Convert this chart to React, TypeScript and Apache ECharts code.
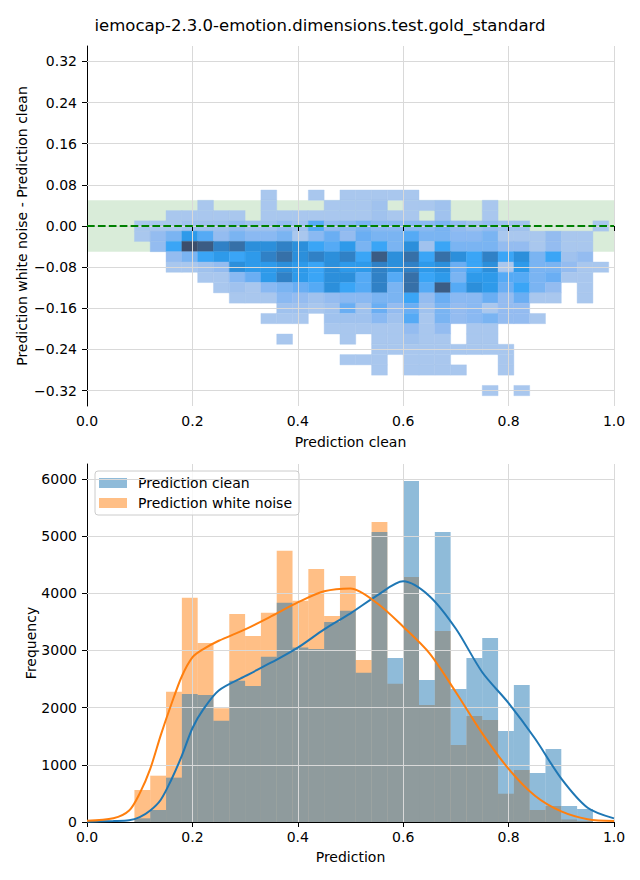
import React, { useEffect, useRef } from 'react';
import * as echarts from 'echarts';

const TITLE = 'iemocap-2.3.0-emotion.dimensions.test.gold_standard';
const FONT = 'DejaVu Sans';

// ---------- top: 2D histogram (difference vs clean prediction) ----------
const heatXStarts = [0.09, 0.12, 0.15, 0.18, 0.21, 0.24, 0.27, 0.30, 0.33, 0.36, 0.39, 0.42, 0.45, 0.48, 0.51,
  0.54, 0.57, 0.60, 0.63, 0.66, 0.69, 0.72, 0.75, 0.78, 0.81, 0.84, 0.87, 0.90, 0.93, 0.96];
const heatYCenters = [0.06, 0.04, 0.02, 0, -0.02, -0.04, -0.06, -0.08, -0.10, -0.12, -0.14, -0.16, -0.18, -0.20,
  -0.22, -0.24, -0.26, -0.28, -0.30, -0.32];
const HEAT_DX = 0.03;
const HEAT_DY = 0.02;
// intensity level per cell (rows follow heatYCenters, columns follow heatXStarts)
const heatRows = [
  [0, 0, 0, 0, 0, 0, 0, 0, 1, 0, 0, 1, 0, 1, 1, 1, 1, 1, 0, 0, 0, 0, 0, 0, 0, 0, 0, 0, 0, 0],
  [0, 0, 0, 0, 1, 0, 0, 0, 1, 0, 0, 0, 1, 1, 1, 2, 0, 1, 1, 2, 0, 0, 1, 0, 0, 0, 0, 0, 0, 0],
  [0, 0, 1, 1, 1, 1, 1, 0, 1, 1, 1, 1, 1, 1, 1, 2, 1, 1, 0, 2, 0, 0, 1, 0, 0, 0, 0, 0, 0, 0],
  [1, 1, 1, 2, 2, 2, 3, 2, 2, 3, 2, 7, 3, 4, 5, 4, 4, 4, 4, 5, 3, 2, 3, 2, 2, 0, 0, 0, 0, 1],
  [1, 3, 5, 9, 7, 3, 5, 4, 4, 5, 1, 4, 6, 3, 6, 5, 5, 7, 5, 5, 4, 4, 5, 1, 1, 1, 3, 1, 1, 0],
  [0, 3, 8, 14, 13, 11, 12, 10, 10, 11, 10, 8, 7, 9, 5, 8, 5, 10, 2, 8, 5, 5, 5, 3, 3, 1, 3, 1, 1, 0],
  [0, 0, 3, 5, 8, 9, 8, 9, 11, 12, 10, 11, 10, 11, 8, 13, 10, 12, 8, 12, 10, 8, 11, 8, 10, 5, 8, 2, 3, 0],
  [0, 0, 1, 1, 2, 3, 10, 9, 9, 10, 9, 8, 10, 9, 9, 11, 10, 11, 9, 10, 6, 8, 10, 1, 9, 5, 5, 3, 1, 1],
  [0, 0, 0, 0, 1, 1, 4, 6, 9, 11, 9, 8, 10, 10, 7, 11, 7, 12, 8, 9, 5, 9, 9, 7, 7, 5, 6, 1, 1, 0],
  [0, 0, 0, 0, 0, 1, 2, 1, 4, 5, 6, 7, 10, 8, 7, 11, 5, 12, 7, 13, 7, 10, 9, 6, 8, 5, 3, 0, 1, 0],
  [0, 0, 0, 0, 0, 0, 1, 1, 1, 4, 3, 2, 3, 4, 4, 5, 5, 8, 3, 6, 4, 4, 6, 3, 6, 1, 1, 0, 1, 0],
  [0, 0, 0, 0, 0, 0, 0, 0, 0, 2, 2, 1, 2, 6, 2, 6, 3, 6, 2, 5, 3, 4, 1, 3, 3, 0, 0, 0, 0, 0],
  [0, 0, 0, 0, 0, 0, 0, 0, 1, 1, 1, 0, 2, 2, 2, 4, 2, 7, 1, 5, 3, 4, 5, 3, 3, 1, 0, 0, 0, 0],
  [0, 0, 0, 0, 0, 0, 0, 0, 0, 0, 0, 0, 1, 1, 1, 1, 1, 3, 1, 3, 0, 1, 1, 0, 0, 0, 0, 0, 0, 0],
  [0, 0, 0, 0, 0, 0, 0, 0, 0, 1, 0, 0, 0, 1, 0, 1, 1, 2, 1, 1, 0, 1, 1, 0, 0, 0, 0, 0, 0, 0],
  [0, 0, 0, 0, 0, 0, 0, 0, 0, 0, 0, 0, 0, 0, 0, 1, 1, 1, 1, 1, 1, 1, 1, 1, 0, 0, 0, 0, 0, 0],
  [0, 0, 0, 0, 0, 0, 0, 0, 0, 0, 0, 0, 0, 1, 1, 1, 0, 1, 1, 1, 0, 0, 0, 1, 0, 0, 0, 0, 0, 0],
  [0, 0, 0, 0, 0, 0, 0, 0, 0, 0, 0, 0, 0, 0, 0, 1, 0, 1, 1, 1, 1, 0, 0, 1, 0, 0, 0, 0, 0, 0],
  [0, 0, 0, 0, 0, 0, 0, 0, 0, 0, 0, 0, 0, 0, 0, 0, 0, 0, 0, 0, 0, 0, 0, 0, 0, 0, 0, 0, 0, 0],
  [0, 0, 0, 0, 0, 0, 0, 0, 0, 0, 0, 0, 0, 0, 0, 0, 0, 0, 0, 0, 0, 0, 1, 0, 1, 0, 0, 0, 0, 0],
];
const heatColors = ['#a9c7ee', '#a0c2ee', '#94bcf0', '#8ab9f2', '#7ab4f2', '#6aaef3', '#55aaf5', '#3aa5f6',
  '#2e9aea', '#2c8fdb', '#3081c6', '#3670a8', '#3b5c84', '#3c4e6c'];
const topYTicks = [-0.32, -0.24, -0.16, -0.08, 0, 0.08, 0.16, 0.24, 0.32];
const bandLow = -0.05;
const bandHigh = 0.05;

// ---------- bottom: histograms + KDE ----------
const histStarts = [0.09, 0.12, 0.15, 0.18, 0.21, 0.24, 0.27, 0.30, 0.33, 0.36, 0.39, 0.42, 0.45, 0.48, 0.51,
  0.54, 0.57, 0.60, 0.63, 0.66, 0.69, 0.72, 0.75, 0.78, 0.81, 0.84, 0.87, 0.90, 0.93];
const HIST_DX = 0.03;
const cleanCounts = [64, 210, 776, 2239, 2221, 1772, 2472, 2379, 2892, 3836, 3052, 3026, 3500, 3696, 2612,
  5072, 2868, 5964, 2484, 5072, 2326, 2868, 3218, 1592, 2396, 857, 1277, 280, 227];
const noiseCounts = [560, 810, 2280, 3924, 3131, 1988, 3638, 3253, 3660, 4746, 3871, 4425, 3605, 4303, 2833,
  5247, 2419, 4285, 2046, 3341, 1347, 1854, 1784, 495, 909, 210, 280, 45, 20];
const kdeX = [0, 0.05, 0.08, 0.1, 0.12, 0.14, 0.16, 0.18, 0.2, 0.22, 0.25, 0.3, 0.35, 0.4, 0.45, 0.5, 0.55,
  0.6, 0.65, 0.7, 0.75, 0.8, 0.85, 0.9, 0.95, 1.0];
const kdeClean = [5, 17, 30, 85, 200, 390, 740, 1160, 1640, 1960, 2300, 2550, 2790, 3050, 3370, 3650, 3960,
  4210, 3950, 3380, 2620, 2080, 1460, 760, 250, 64];
const kdeNoise = [20, 64, 200, 500, 930, 1520, 2060, 2550, 2880, 3020, 3170, 3370, 3600, 3840, 4035, 4085, 3830,
  3416, 2950, 2270, 1550, 930, 460, 185, 50, 17];
const bottomYTicks = [0, 1000, 2000, 3000, 4000, 5000, 6000];
const BOTTOM_YMAX = 6262;

const CLEAN = 'Prediction clean';
const NOISE = 'Prediction white noise';

const GRID_COLOR = '#d9d9d9';

function fmtSigned(v: number, d: number) {
  const s = Math.abs(v).toFixed(d);
  return v < -1e-9 ? '\u2212' + s : s;
}

function buildOption() {
  const heatData: number[][] = [];
  heatRows.forEach((row, r) => {
    row.forEach((v, c) => {
      if (v > 0) heatData.push([heatXStarts[c], heatYCenters[r], v]);
    });
  });
  const noiseData = histStarts.map((x, i) => [x, noiseCounts[i]]);
  const cleanData = histStarts.map((x, i) => [x, cleanCounts[i]]);

  const tickLabel = { color: '#000', fontSize: 14, fontFamily: FONT };
  const axisLine = { show: true, lineStyle: { color: '#000', width: 1 } };
  const axisTick = { show: true, inside: false, length: 5, lineStyle: { color: '#000', width: 1 } };

  const hLines = (ticks: number[], xi: number, yi: number) => ({
    type: 'line',
    xAxisIndex: xi,
    yAxisIndex: yi,
    data: [],
    z: 3,
    silent: true,
    markLine: {
      silent: true,
      symbol: ['none', 'none'],
      label: { show: false },
      emphasis: { disabled: true },
      lineStyle: { color: GRID_COLOR, width: 1, type: 'solid' },
      data: ticks.map((v) => ({ yAxis: v })),
    },
  });

  return {
    animation: false,
    textStyle: { fontFamily: FONT },
    title: {
      text: TITLE,
      left: 'center',
      top: 17,
      padding: 0,
      textStyle: { fontSize: 16.5, fontWeight: 'normal', color: '#000', fontFamily: FONT },
    },
    legend: {
      data: [CLEAN, NOISE],
      orient: 'vertical',
      left: 95,
      top: 471,
      icon: 'rect',
      itemWidth: 28,
      itemHeight: 10,
      itemGap: 6,
      padding: [5, 7, 5, 4],
      selectedMode: false,
      backgroundColor: 'rgba(255,255,255,0.8)',
      borderColor: '#cccccc',
      borderWidth: 1,
      borderRadius: 3,
      textStyle: { fontSize: 14, color: '#000', fontFamily: FONT, padding: [0, 0, 0, 6] },
    },
    visualMap: {
      show: false,
      type: 'continuous',
      min: 1,
      max: heatColors.length,
      dimension: 2,
      seriesIndex: 1,
      inRange: { color: heatColors },
    },
    grid: [
      { left: 87, top: 46, width: 527, height: 360 },
      { left: 87, top: 464, width: 527, height: 358 },
    ],
    xAxis: [
      {
        type: 'value', gridIndex: 0, min: 0, max: 1, interval: 0.2, z: 3,
        axisLine, axisTick,
        axisLabel: { ...tickLabel, margin: 8, formatter: (v: number) => v.toFixed(1) },
        splitLine: { show: true, lineStyle: { color: GRID_COLOR, width: 1 } },
        name: 'Prediction clean', nameLocation: 'middle', nameGap: 29, nameMoveOverlap: false,
        nameTextStyle: { fontSize: 14, color: '#000', fontFamily: FONT },
      },
      {
        type: 'value', gridIndex: 1, min: 0, max: 1, interval: 0.2, z: 3,
        axisLine, axisTick,
        axisLabel: { ...tickLabel, margin: 8, formatter: (v: number) => v.toFixed(1) },
        splitLine: { show: true, lineStyle: { color: GRID_COLOR, width: 1 } },
        name: 'Prediction', nameLocation: 'middle', nameGap: 28, nameMoveOverlap: false,
        nameTextStyle: { fontSize: 14, color: '#000', fontFamily: FONT },
      },
    ],
    yAxis: [
      {
        type: 'value', gridIndex: 0, min: -0.35, max: 0.35, z: 3,
        axisLine,
        axisTick: { ...axisTick, customValues: topYTicks },
        axisLabel: { ...tickLabel, margin: 10, customValues: topYTicks, formatter: (v: number) => fmtSigned(v, 2) },
        splitLine: { show: false },
        name: 'Prediction white noise - Prediction clean', nameLocation: 'middle', nameGap: 58,
        nameMoveOverlap: false,
        nameTextStyle: { fontSize: 14, color: '#000', fontFamily: FONT },
      },
      {
        type: 'value', gridIndex: 1, min: 0, max: BOTTOM_YMAX, z: 3,
        axisLine,
        axisTick: { ...axisTick, customValues: bottomYTicks },
        axisLabel: { ...tickLabel, margin: 10, customValues: bottomYTicks, formatter: (v: number) => String(Math.round(v)) },
        splitLine: { show: false },
        name: 'Frequency', nameLocation: 'middle', nameGap: 49, nameMoveOverlap: false,
        nameTextStyle: { fontSize: 14, color: '#000', fontFamily: FONT },
      },
    ],
    series: [
      // 0: green band
      {
        type: 'line', xAxisIndex: 0, yAxisIndex: 0, data: [], z: 1, silent: true,
        markArea: {
          silent: true,
          itemStyle: { color: 'rgba(0,128,0,0.15)' },
          data: [[{ yAxis: bandLow }, { yAxis: bandHigh }]],
        },
      },
      // 1: 2D histogram cells
      {
        type: 'custom', name: 'heat', xAxisIndex: 0, yAxisIndex: 0, z: 2, silent: true,
        data: heatData,
        encode: { x: 0, y: 1 },
        renderItem: (params: any, api: any) => {
          const x0 = api.value(0);
          const yc = api.value(1);
          const p1 = api.coord([x0, yc + HEAT_DY / 2]);
          const p2 = api.coord([x0 + HEAT_DX, yc - HEAT_DY / 2]);
          const c = api.visual('color');
          return {
            type: 'rect',
            shape: { x: p1[0], y: p1[1], width: p2[0] - p1[0], height: p2[1] - p1[1] },
            style: { fill: c, stroke: c, lineWidth: 0.4 },
          };
        },
      },
      // 2: top y grid
      hLines(topYTicks, 0, 0),
      // 3: zero dashed line
      {
        type: 'line', xAxisIndex: 0, yAxisIndex: 0, data: [], z: 5, silent: true,
        markLine: {
          silent: true,
          symbol: ['none', 'none'],
          label: { show: false },
          emphasis: { disabled: true },
          lineStyle: { color: '#008000', width: 2, type: [7.7, 3.2] },
          data: [{ yAxis: 0 }],
        },
      },
      // 4: noise histogram (drawn first)
      {
        type: 'custom', name: NOISE, xAxisIndex: 1, yAxisIndex: 1, z: 2, silent: true,
        itemStyle: { color: 'rgba(255,127,14,0.5)' },
        data: noiseData,
        encode: { x: 0, y: 1 },
        renderItem: (params: any, api: any) => {
          const p1 = api.coord([api.value(0), api.value(1)]);
          const p2 = api.coord([api.value(0) + HIST_DX, 0]);
          return {
            type: 'rect',
            shape: { x: p1[0], y: p1[1], width: p2[0] - p1[0], height: p2[1] - p1[1] },
            style: { fill: 'rgba(255,127,14,0.5)' },
          };
        },
      },
      // 5: clean histogram (on top)
      {
        type: 'custom', name: CLEAN, xAxisIndex: 1, yAxisIndex: 1, z: 2, silent: true,
        itemStyle: { color: 'rgba(31,119,180,0.5)' },
        data: cleanData,
        encode: { x: 0, y: 1 },
        renderItem: (params: any, api: any) => {
          const p1 = api.coord([api.value(0), api.value(1)]);
          const p2 = api.coord([api.value(0) + HIST_DX, 0]);
          return {
            type: 'rect',
            shape: { x: p1[0], y: p1[1], width: p2[0] - p1[0], height: p2[1] - p1[1] },
            style: { fill: 'rgba(31,119,180,0.5)' },
          };
        },
      },
      // 6: bottom y grid
      hLines(bottomYTicks.slice(1), 1, 1),
      // 7, 8: KDE curves
      {
        type: 'line', name: 'kde clean', xAxisIndex: 1, yAxisIndex: 1, z: 5, silent: true,
        data: kdeX.map((x, i) => [x, kdeClean[i]]),
        showSymbol: false, smooth: 0.3,
        lineStyle: { color: '#1f77b4', width: 2 },
        itemStyle: { color: '#1f77b4' },
      },
      {
        type: 'line', name: 'kde noise', xAxisIndex: 1, yAxisIndex: 1, z: 5, silent: true,
        data: kdeX.map((x, i) => [x, kdeNoise[i]]),
        showSymbol: false, smooth: 0.3,
        lineStyle: { color: '#ff7f0e', width: 2 },
        itemStyle: { color: '#ff7f0e' },
      },
    ],
  };
}

export default function App() {
  const ref = useRef<HTMLDivElement>(null);
  useEffect(() => {
    if (!ref.current) return;
    const chart = echarts.init(ref.current, undefined, { renderer: 'svg' });
    chart.setOption(buildOption() as any);
    return () => chart.dispose();
  }, []);
  return (
    <div
      ref={ref}
      style={{ position: 'fixed', left: 0, top: 0, width: 640, height: 880, background: '#fff' }}
    />
  );
}
